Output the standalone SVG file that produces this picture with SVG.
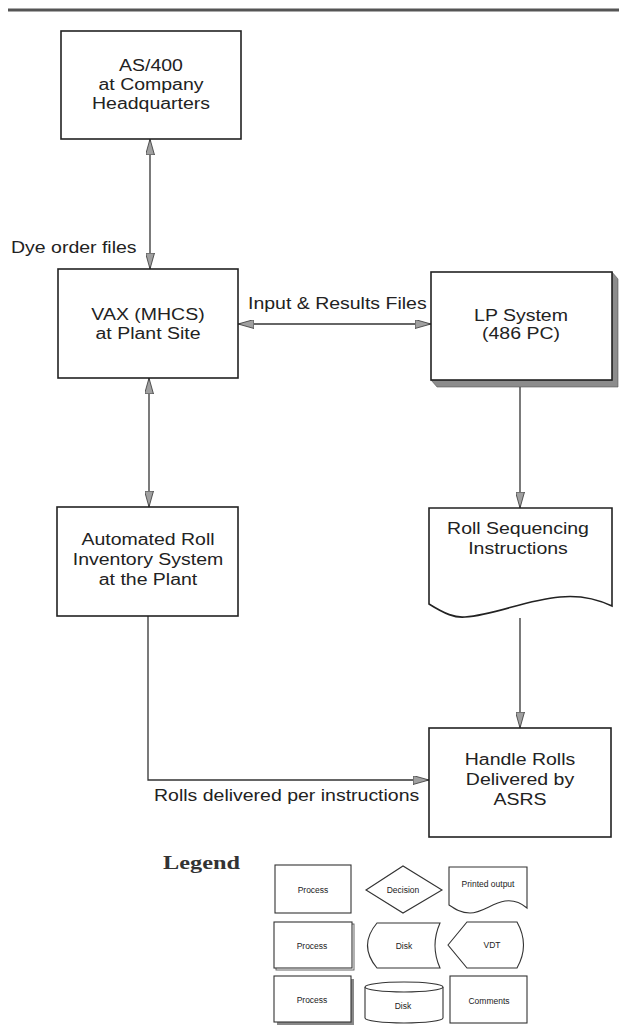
<svg xmlns="http://www.w3.org/2000/svg" width="619" height="1025" viewBox="0 0 619 1025">
<style>
.box{fill:#fff;stroke:#222;stroke-width:1.6}
.lbox{fill:#fff;stroke:#333;stroke-width:1.1}
.t{font-family:"Liberation Sans",Arial,sans-serif;font-size:19.5px;fill:#222;text-anchor:middle}
.ts{font-family:"Liberation Sans",Arial,sans-serif;font-size:19.5px;fill:#222;text-anchor:start}
.lt{font-family:"Liberation Sans",Arial,sans-serif;font-size:8.5px;fill:#222;text-anchor:middle;dominant-baseline:central}
.con{fill:none;stroke:#333;stroke-width:1.3}
.shadow{fill:#8c8c8c;stroke:#555;stroke-width:0.6}
</style>
<defs>
<marker id="ah" viewBox="0 0 16 9" refX="16" refY="4.5" markerWidth="16" markerHeight="9" markerUnits="userSpaceOnUse" orient="auto-start-reverse">
<path d="M0,0 L16,4.5 L0,9 Z" fill="#a0a0a0" stroke="#333" stroke-width="0.8"/>
</marker>
</defs>
<rect width="619" height="1025" fill="#fff"/>
<line x1="8" y1="10" x2="619" y2="10" stroke="#555" stroke-width="3"/>

<g id="connectors">
<line class="con" x1="150" y1="139" x2="150" y2="269" marker-start="url(#ah)" marker-end="url(#ah)"/>
<line class="con" x1="238" y1="324" x2="431" y2="324" marker-start="url(#ah)" marker-end="url(#ah)"/>
<line class="con" x1="149" y1="378" x2="149" y2="507" marker-start="url(#ah)" marker-end="url(#ah)"/>
<line class="con" x1="520" y1="387" x2="520" y2="508" marker-end="url(#ah)"/>
<line class="con" x1="520" y1="618" x2="520" y2="728" marker-end="url(#ah)"/>
<polyline class="con" points="148,616 148,780 429,780" marker-end="url(#ah)"/>
<text class="ts" transform="matrix(1,0,0,0.8,11,253)">Dye order files</text>
<text class="ts" transform="matrix(1,0,0,0.8,248,309)">Input &amp; Results Files</text>
<text class="ts" transform="matrix(1,0,0,0.8,154,801)">Rolls delivered per instructions</text>
</g>

<g id="as400">
<rect class="box" x="61" y="31" width="180" height="108"/>
<text class="t" transform="matrix(1,0,0,0.8,151,71)">AS/400</text>
<text class="t" transform="matrix(1,0,0,0.8,151,90)">at Company</text>
<text class="t" transform="matrix(1,0,0,0.8,151,109)">Headquarters</text>
</g>

<g id="vax">
<rect class="box" x="58" y="269" width="180" height="109"/>
<text class="t" transform="matrix(1,0,0,0.8,148,320)">VAX (MHCS)</text>
<text class="t" transform="matrix(1,0,0,0.8,148,339)">at Plant Site</text>
</g>

<g id="lp">
<polygon class="shadow" points="612,272 618,279 618,387 437,387 431,380 612,380"/>
<rect class="box" x="431" y="272" width="181" height="108"/>
<text class="t" transform="matrix(1,0,0,0.8,521,321)">LP System</text>
<text class="t" transform="matrix(1,0,0,0.8,521,339)">(486 PC)</text>
</g>

<g id="automated">
<rect class="box" x="57" y="507" width="181" height="109"/>
<text class="t" transform="matrix(1,0,0,0.8,148,545)">Automated Roll</text>
<text class="t" transform="matrix(1,0,0,0.8,148,565)">Inventory System</text>
<text class="t" transform="matrix(1,0,0,0.8,148,585)">at the Plant</text>
</g>

<g id="rollseq">
<path class="box" d="M429,508 H612 V606 C595,598 580,595 560,597 C525,600 495,615 465,617 C455,618 445,614 429,604 Z"/>
<text class="t" transform="matrix(1,0,0,0.8,518,534)">Roll Sequencing</text>
<text class="t" transform="matrix(1,0,0,0.8,518,554)">Instructions</text>
</g>

<g id="handle">
<rect class="box" x="429" y="728" width="182" height="109"/>
<text class="t" transform="matrix(1,0,0,0.8,520,765)">Handle Rolls</text>
<text class="t" transform="matrix(1,0,0,0.8,520,785)">Delivered by</text>
<text class="t" transform="matrix(1,0,0,0.8,520,805)">ASRS</text>
</g>

<g id="legend">
<text x="163" y="869" font-family="'Liberation Serif','Times New Roman',serif" font-weight="bold" font-size="19" fill="#333" textLength="77" lengthAdjust="spacingAndGlyphs">Legend</text>

<rect class="lbox" x="275" y="865" width="76" height="48"/>
<text class="lt" x="313" y="890">Process</text>

<polygon class="lbox" points="366,890 403,866 442,890 403,913"/>
<text class="lt" x="403" y="890">Decision</text>

<path class="lbox" d="M449,867 H527 V908 C520,902 512,900 505,901 C492,903 482,913 470,913 C461,913 455,909 449,905 Z"/>
<text class="lt" x="488" y="884">Printed output</text>

<rect x="276" y="924" width="78" height="46" fill="none" stroke="#555" stroke-width="0.9"/>
<rect class="lbox" x="274" y="922" width="78" height="46"/>
<text class="lt" x="312" y="946">Process</text>

<path class="lbox" d="M377,923 H440 Q430,945.5 440,968 H377 Q358,945.5 377,923 Z"/>
<text class="lt" x="404" y="946">Disk</text>

<path class="lbox" d="M448,945 L467,922 H517 Q530,945 517,968 H467 Z"/>
<text class="lt" x="492" y="945">VDT</text>

<rect x="277" y="979" width="77" height="46" fill="#888"/>
<rect class="lbox" x="274" y="976" width="77" height="46"/>
<text class="lt" x="312" y="1000">Process</text>

<path class="lbox" d="M365,987 V1018 A39,5 0 0 0 443,1018 V987"/>
<ellipse class="lbox" cx="404" cy="987" rx="39" ry="5"/>
<text class="lt" x="403" y="1006">Disk</text>

<rect class="lbox" x="450" y="976" width="77" height="47"/>
<text class="lt" x="489" y="1001">Comments</text>
</g>
</svg>
